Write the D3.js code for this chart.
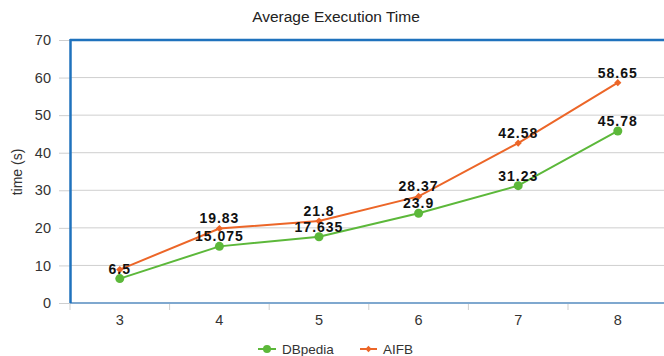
<!DOCTYPE html>
<html><head><meta charset="utf-8">
<script src="https://cdn.jsdelivr.net/npm/d3@7"></script>
<style>body{margin:0;background:#fff}svg{display:block;font-family:"Liberation Sans",Arial,sans-serif}</style>
</head><body>
<svg id="c" width="664" height="356"></svg>
<script>
const categories = ["3","4","5","6","7","8"];
const dbpedia = [6.5, 15.075, 17.635, 23.9, 31.23, 45.78];
const aifb = [8.9, 19.83, 21.8, 28.37, 42.58, 58.65];
const dbpediaLabels = ["6.5","15.075","17.635","23.9","31.23","45.78"];
const aifbLabels = [null,"19.83","21.8","28.37","42.58","58.65"];
const yTicks = [0,10,20,30,40,50,60,70];
const seriesNames = ["DBpedia","AIFB"];

const svg = d3.select("#c");
const x = d3.scaleBand().domain(categories).range([70, 667.6]);
const y = d3.scaleLinear().domain([0,70]).range([303, 40]);
const green = "#5cb83a", orange = "#ec6628", blue = "#1f72bd";
const FF = "Liberation Sans, Arial, sans-serif";

svg.append("text").attr("x",336).attr("y",22).attr("text-anchor","middle")
  .attr("font-size",15.5).attr("fill","#222").text("Average Execution Time");

// gridlines
svg.append("g").selectAll("line").data(yTicks.slice(1)).join("line")
  .attr("x1",70).attr("x2",664).attr("y1",d=>y(d)).attr("y2",d=>y(d))
  .attr("stroke","#cfcfcf").attr("stroke-width",1);

// y axis
const ya = svg.append("g").attr("transform","translate(70,0)")
  .call(d3.axisLeft(y).tickValues(yTicks).tickSize(11).tickPadding(8));
ya.select(".domain").remove();
ya.selectAll(".tick line").attr("stroke","#cfcfcf");
ya.selectAll("text").attr("font-size",14.5).attr("fill","#333").attr("font-family",FF);

// x axis
const xa = svg.append("g").attr("transform","translate(0,303)")
  .call(d3.axisBottom(x).tickSize(0).tickPadding(12));
xa.select(".domain").remove();
xa.selectAll("text").attr("font-size",14.5).attr("fill","#333").attr("font-family",FF);
svg.append("g").selectAll("line").data(categories).join("line")
  .attr("x1",d=>x(d)).attr("x2",d=>x(d)).attr("y1",303).attr("y2",310)
  .attr("stroke","#cfcfcf");

// frame
svg.append("line").attr("x1",70).attr("x2",664).attr("y1",303).attr("y2",303).attr("stroke","#7fa8cf").attr("stroke-width",2);
svg.append("line").attr("x1",70).attr("x2",664).attr("y1",40).attr("y2",40).attr("stroke",blue).attr("stroke-width",2.5);
svg.append("line").attr("x1",70.5).attr("x2",70.5).attr("y1",39).attr("y2",303).attr("stroke",blue).attr("stroke-width",2.5);

svg.append("text").attr("transform","translate(22,172) rotate(-90)").attr("text-anchor","middle")
  .attr("font-size",14).attr("fill","#333").text("time (s)");

const cx = i => x(categories[i]) + x.bandwidth()/2;
const line = d3.line().x((d,i)=>cx(i)).y(d=>y(d));

function series(vals, color, shape){
  svg.append("path").datum(vals).attr("d",line).attr("fill","none").attr("stroke",color).attr("stroke-width",2);
  const g = svg.append("g");
  if(shape==="circle"){
    g.selectAll("circle").data(vals).join("circle").attr("cx",(d,i)=>cx(i)).attr("cy",d=>y(d)).attr("r",4.5).attr("fill",color);
  } else {
    g.selectAll("path").data(vals).join("path")
      .attr("d",d3.symbol(d3.symbolSquare,26))
      .attr("transform",(d,i)=>`translate(${cx(i)},${y(d)}) rotate(45)`).attr("fill",color);
  }
}
series(dbpedia, green, "circle");
series(aifb, orange, "diamond");

function labels(vals, labs){
  const items = vals.map((v,i)=>({v, i, t:labs[i]})).filter(d=>d.t!==null);
  svg.append("g").selectAll("text").data(items).join("text")
    .attr("x",d=>cx(d.i)).attr("y",d=>y(d.v)-5)
    .attr("text-anchor","middle").attr("font-size",14).attr("font-weight","bold")
    .attr("letter-spacing",1).attr("fill","#111")
    .text(d=>d.t);
}
labels(dbpedia, dbpediaLabels);
labels(aifb, aifbLabels);

// legend
const lg = svg.append("g");
lg.append("line").attr("x1",258).attr("x2",276).attr("y1",349).attr("y2",349).attr("stroke",green).attr("stroke-width",2);
lg.append("circle").attr("cx",267).attr("cy",349).attr("r",4).attr("fill",green);
lg.append("text").attr("x",282).attr("y",354).attr("font-size",13.5).attr("fill","#333").text(seriesNames[0]);
lg.append("line").attr("x1",360).attr("x2",377).attr("y1",349).attr("y2",349).attr("stroke",orange).attr("stroke-width",2);
lg.append("path").attr("d",d3.symbol(d3.symbolSquare,20)).attr("transform","translate(368.5,349) rotate(45)").attr("fill",orange);
lg.append("text").attr("x",383).attr("y",354).attr("font-size",13.5).attr("fill","#333").text(seriesNames[1]);
</script>
</body></html>
